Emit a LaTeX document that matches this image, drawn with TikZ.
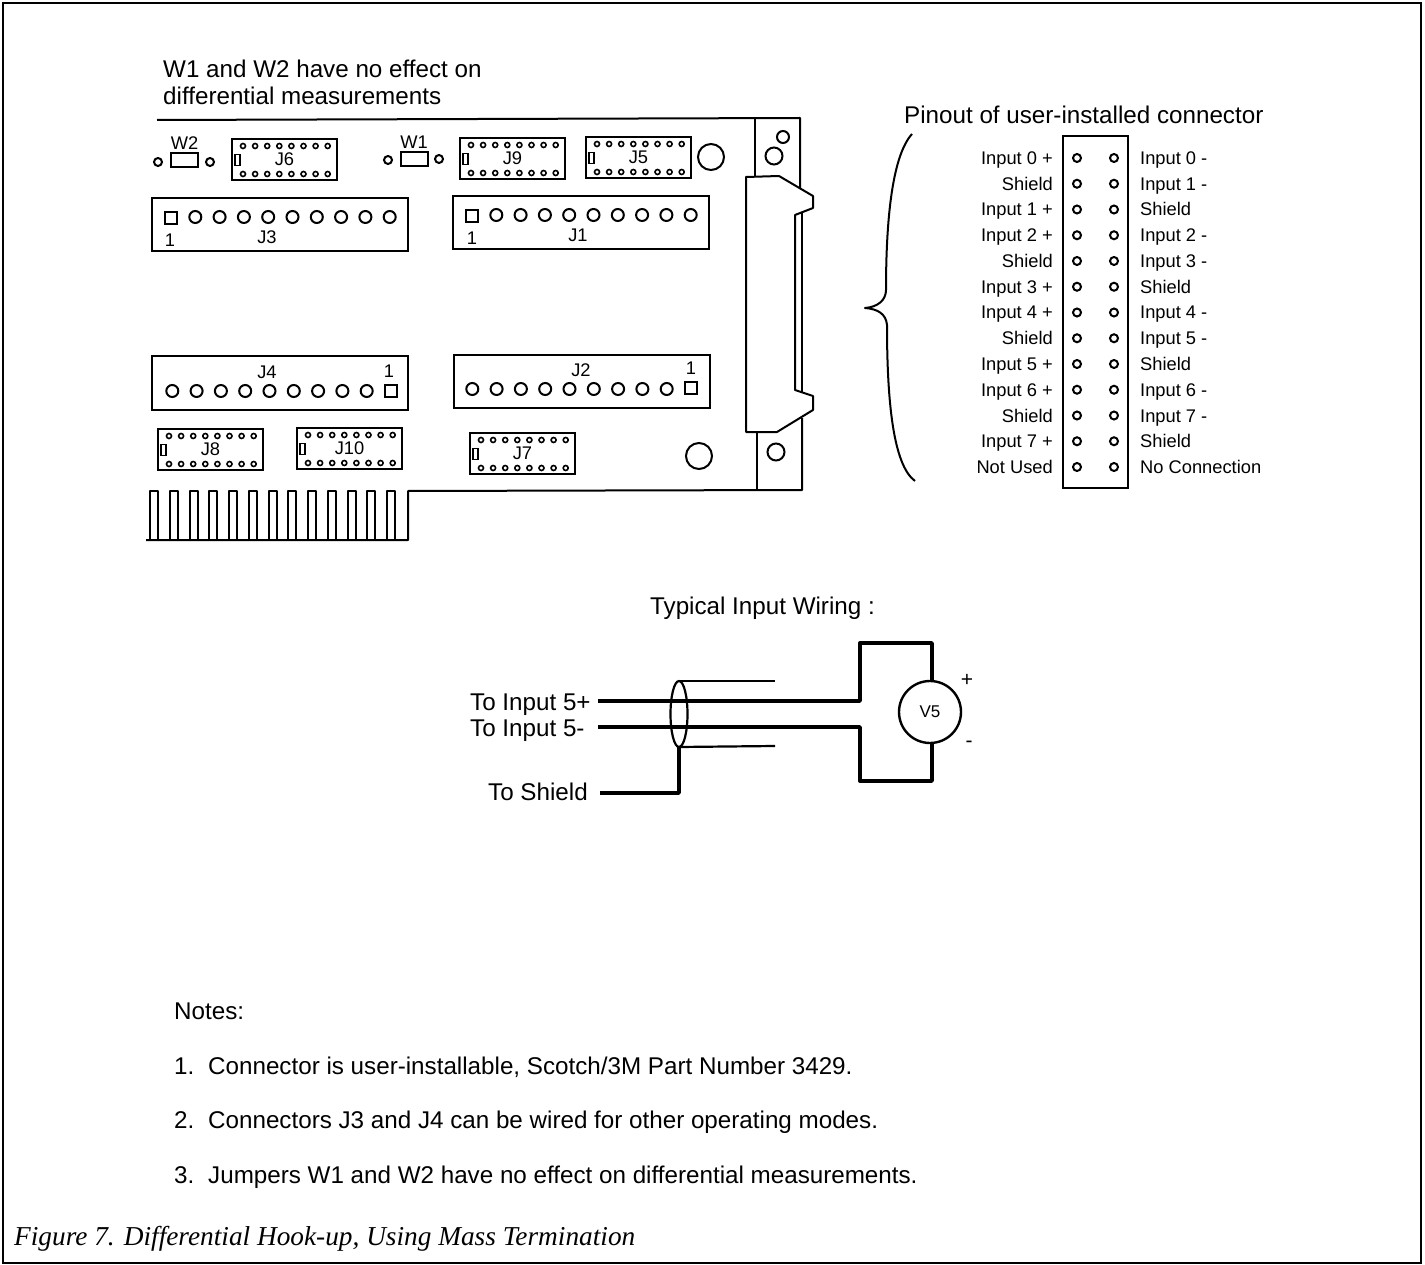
\documentclass[tikz,border=0pt]{standalone}
\usepackage{fontspec}
\setmainfont{Liberation Sans}
\newfontfamily\capfont{Liberation Serif}
\usetikzlibrary{positioning}
\tikzstyle{board} = [line width=2pt, line join=round]
\tikzstyle{wire} = [line width=3.4pt, line join=round]
\tikzstyle{thinwire} = [line width=2.2pt]
\tikzstyle{lbl} = [inner sep=0pt, font=\fontsize{24.2}{27}\selectfont, text height=17.3pt, text depth=0pt]
\tikzstyle{small} = [inner sep=0pt, font=\fontsize{18.3}{20}\selectfont, text height=13pt, text depth=0pt]
\tikzstyle{header} = [rectangle, draw=black, line width=2pt, minimum width=256pt, minimum height=53pt, inner sep=0pt]
\tikzstyle{dipbox} = [rectangle, draw=black, line width=2pt, minimum width=105pt, minimum height=41pt, inner sep=0pt, font=\fontsize{18.3}{20}\selectfont]
\tikzstyle{hole} = [circle, draw=black, line width=2pt, minimum size=12pt, inner sep=0pt]
\tikzstyle{pinsq} = [rectangle, draw=black, line width=2pt, minimum size=12pt, inner sep=0pt]
\tikzstyle{dippin} = [circle, draw=black, line width=1.6pt, minimum size=5pt, inner sep=0pt]
\tikzstyle{notch} = [rectangle, draw=black, line width=1.6pt, minimum width=5pt, minimum height=11pt, inner sep=0pt]
\tikzstyle{jumper} = [rectangle, draw=black, line width=2pt, minimum width=27pt, minimum height=14pt, inner sep=0pt]
\tikzstyle{jhole} = [circle, draw=black, line width=2pt, minimum size=8pt, inner sep=0pt]
\tikzstyle{mount} = [circle, draw=black, line width=2pt, inner sep=0pt]

\newcommand{\dipchip}[4]{%
  \node (#1) [dipbox] at (#2+52.5,#3+20.5) {#4};
  \node (#1n) [notch] at (#2+5.5,#3+21) {};
  \foreach \k in {0,...,7} {
    \node (#1t\k) [dippin] at (#2+11+\k*12.1,#3+7) {};
    \node (#1b\k) [dippin] at (#2+11+\k*12.1,#3+35) {};
  }
}

\begin{document}
\begin{tikzpicture}[x=1pt,y=-1pt]
\useasboundingbox (0,0) rectangle (1425,1265);

%% FRAME

\draw [line width=2.4pt] (3,3) rectangle (1421,1263);

%% BOARD

\node (w12a) [lbl, anchor=west] at (163,69) {W1 and W2 have no effect on};
\node (w12b) [lbl, anchor=west] at (163,96) {differential measurements};

\draw [board] (157,120) -- (800,118) -- (800,188);
\draw [board] (755,118) -- (755,177);
\draw [board] (746,177) -- (779,176) -- (813,196) -- (813,208) -- (795,215) -- (795,390) -- (813,396) -- (813,410) -- (777,432) -- (746,432) -- cycle;
\draw [board] (802,213) -- (802,393);
\draw [board] (757,432) -- (757,491);
\draw [board] (802,418) -- (802,490) -- (408,491) -- (408,540) -- (146,540);
\foreach \f in {0,...,12} {
  \draw [board] ({150+\f*19.75},540) -- ({150+\f*19.75},491) -- ({158+\f*19.75},491) -- ({158+\f*19.75},540);
}

\node (m1) [mount, minimum size=26pt] at (711,157) {};
\node (m2) [mount, minimum size=26pt] at (699,456) {};
\node (m3) [mount, minimum size=12pt] at (783,137) {};
\node (m4) [mount, minimum size=17pt] at (774,156) {};
\node (m5) [mount, minimum size=17pt] at (776,452) {};

%% JUMPERS

\node (w2) [jumper] at (184.5,160) {};
\node (w2a) [jhole] at (158,162) {};
\node (w2b) [jhole] at (210,162) {};
\node (w2l) [small, above=2pt of w2] {W2};
\node (w1) [jumper] at (414,159) {};
\node (w1a) [jhole] at (388,160) {};
\node (w1b) [jhole] at (439,159) {};
\node (w1l) [small, above=2pt of w1] {W1};

%% HEADERS

\node (j3) [header] at (280,224.5) {};
\node (j3l) [small] at (267,237) {J3};
\node (j3one) [small] at (170,240) {1};
\node (j3s) [pinsq] at (171,218) {};
\foreach \i in {1,...,9} \node (j3p\i) [hole] at ({171+\i*24.3},217) {};

\node (j1) [header] at (581,222.5) {};
\node (j1l) [small] at (578,235) {J1};
\node (j1one) [small] at (472,238) {1};
\node (j1s) [pinsq] at (472,216) {};
\foreach \i in {1,...,9} \node (j1p\i) [hole] at ({472+\i*24.3},215) {};

\node (j4) [header] at (280,383) {};
\node (j4l) [small] at (267,372) {J4};
\node (j4one) [small] at (389,371) {1};
\node (j4s) [pinsq] at (391,391) {};
\foreach \i in {1,...,9} \node (j4p\i) [hole] at ({391-\i*24.3},391) {};

\node (j2) [header] at (582,381.5) {};
\node (j2l) [small] at (581,370) {J2};
\node (j2one) [small] at (691,368) {1};
\node (j2s) [pinsq] at (691,388) {};
\foreach \i in {1,...,9} \node (j2p\i) [hole] at ({691-\i*24.3},389) {};

%% CHIPS

\dipchip{j6}{232}{139}{J6}
\dipchip{j9}{460}{138}{J9}
\dipchip{j5}{586}{137}{J5}
\dipchip{j8}{158}{429}{J8}
\dipchip{j10}{297}{428}{J10}
\dipchip{j7}{470}{433}{J7}

%% PINOUT

\node (pintitle) [lbl, anchor=west] at (904,115) {Pinout of user-installed connector};
\draw [board] (912,134) .. controls (893,155) and (886,215) .. (886,290) .. controls (886,300) and (878,307) .. (865,308) .. controls (878,309) and (886,314) .. (887,325) .. controls (887,400) and (893,465) .. (915,481);
\node (pinbody) [rectangle, draw=black, line width=2pt, minimum width=65pt, minimum height=352pt] at (1095.5,312) {};
\foreach \i/\a/\b in {0/Input 0 +/Input 0 -,1/Shield/Input 1 -,2/Input 1 +/Shield,3/Input 2 +/Input 2 -,4/Shield/Input 3 -,5/Input 3 +/Shield,6/Input 4 +/Input 4 -,7/Shield/Input 5 -,8/Input 5 +/Shield,9/Input 6 +/Input 6 -,10/Shield/Input 7 -,11/Input 7 +/Shield,12/Not Used/No Connection} {
  \node (pl\i) [jhole] at (1077,{158+\i*25.75}) {};
  \node (pr\i) [jhole] at (1114,{158+\i*25.75}) {};
  \node (tl\i) [small, anchor=east] at (1053,{158+\i*25.75}) {\a};
  \node (tr\i) [small, anchor=west] at (1140,{158+\i*25.75}) {\b};
}

%% WIRING

\node (wiretitle) [lbl, anchor=west] at (650,606) {Typical Input Wiring :};
\node (lblp) [lbl, anchor=west] at (470,702) {To Input 5+};
\node (lblm) [lbl, anchor=west] at (470,728) {To Input 5-};
\node (lbls) [lbl, anchor=west] at (488,792) {To Shield};
\node (v5) [circle, draw=black, line width=2.4pt, minimum size=62pt, inner sep=0pt, font=\fontsize{17}{20}\selectfont] at (930,712) {V5};
\node (vplus) [inner sep=0pt, font=\fontsize{21}{24}\selectfont] at (967,680) {+};
\node (vminus) [inner sep=0pt, font=\fontsize{21}{24}\selectfont] at (969,744) {-};

\coordinate (inp) at (598,701);
\coordinate (inm) at (598,727);
\coordinate (ins) at (600,793);
\coordinate (jogp) at (860,701);
\coordinate (jogm) at (860,727);
\coordinate (topr) at (932,643);
\coordinate (botr) at (932,781);
\coordinate (cab) at (679,714);
\coordinate (shtop) at (679,681);
\coordinate (shbot) at (679,747);
\coordinate (shtopend) at (775,681);
\coordinate (shbotend) at (775,746);

\draw [thinwire] (cab) ellipse [x radius=8.5, y radius=33];
\draw [thinwire] (shtop) -- (shtopend);
\draw [thinwire] (shbot) -- (shbotend);
\draw [wire] (inp) -- (jogp) |- (topr) -- (v5.north -| topr);
\draw [wire] (inm) -- (jogm) |- (botr) -- (v5.south -| botr);
\draw [wire] (ins) -| (shbot);

%% NOTES

\node (notes) [lbl, anchor=west] at (174,1011) {Notes:};
\node (n1) [lbl, anchor=west] at (174,1066) {1.};
\node (n1t) [lbl, anchor=west] at (208,1066) {Connector is user-installable, Scotch/3M Part Number 3429.};
\node (n2) [lbl, anchor=west] at (174,1120) {2.};
\node (n2t) [lbl, anchor=west] at (208,1120) {Connectors J3 and J4 can be wired for other operating modes.};
\node (n3) [lbl, anchor=west] at (174,1175) {3.};
\node (n3t) [lbl, anchor=west] at (208,1175) {Jumpers W1 and W2 have no effect on differential measurements.};
\node (caption) [inner sep=0pt, anchor=west, font=\capfont\itshape\fontsize{27.3}{30}\selectfont] at (14,1239) {Figure 7. Differential Hook-up, Using Mass Termination};
\end{tikzpicture}
\end{document}
